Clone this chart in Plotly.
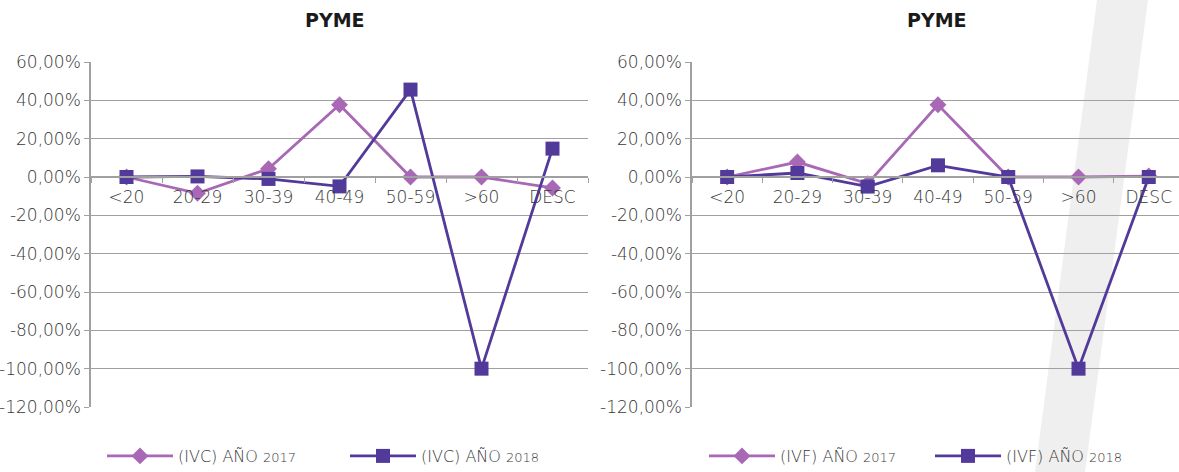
import plotly.graph_objects as go

categories = ["<20", "20-29", "30-39", "40-49", "50-59", ">60", "DESC"]

ivc_2017 = [0.0, -0.085, 0.043, 0.377, 0.0, 0.0, -0.057]
ivc_2018 = [0.0, 0.003, -0.010, -0.049, 0.456, -1.0, 0.148]

ivf_2017 = [0.0, 0.078, -0.035, 0.377, 0.0, 0.0, 0.005]
ivf_2018 = [0.0, 0.021, -0.050, 0.061, 0.0, -1.0, 0.0]

chart_titles = ["PYME", "PYME"]
names_left = ["(IVC) AÑO <span style='font-size:13px'>2017</span>",
              "(IVC) AÑO <span style='font-size:13px'>2018</span>"]
names_right = ["(IVF) AÑO <span style='font-size:13px'>2017</span>",
               "(IVF) AÑO <span style='font-size:13px'>2018</span>"]

ytickvals = [0.6, 0.4, 0.2, 0.0, -0.2, -0.4, -0.6, -0.8, -1.0, -1.2]
yticktext = ["60,00%", "40,00%", "20,00%", "0,00%", "-20,00%", "-40,00%",
             "-60,00%", "-80,00%", "-100,00%", "-120,00%"]

C17 = "#A968B5"
C18 = "#523A9A"
GRID = "#A0A0A0"
TXT = "#383838"
FONT = "DejaVu Sans"

W, H = 1179, 472
PT, PB = 62, 407
PH = PB - PT

fig = go.Figure()

def add_pair(xa, ya, s17, s18, names, legend):
    fig.add_trace(go.Scatter(x=categories, y=s17, name=names[0], xaxis=xa, yaxis=ya,
                             mode="lines+markers", legend=legend,
                             line=dict(color=C17, width=2.8),
                             marker=dict(symbol="diamond", size=13, color=C17)))
    fig.add_trace(go.Scatter(x=categories, y=s18, name=names[1], xaxis=xa, yaxis=ya,
                             mode="lines+markers", legend=legend,
                             line=dict(color=C18, width=2.8),
                             marker=dict(symbol="square", size=14, color=C18)))

add_pair("x", "y", ivc_2017, ivc_2018, names_left, "legend")
add_pair("x2", "y2", ivf_2017, ivf_2018, names_right, "legend2")

zero_pos = 1.2 / 1.8

xcommon = dict(type="category", anchor="free", position=zero_pos, showgrid=False,
               showline=True, linecolor=GRID, linewidth=1.5, ticks="outside",
               tickson="boundaries", ticklen=5, tickcolor=GRID, zeroline=False,
               automargin=False, ticklabelstandoff=5,
               tickfont=dict(family=FONT, size=17, color=TXT, weight=300))
ycommon = dict(range=[-1.2, 0.6], tickvals=ytickvals, ticktext=yticktext,
               showgrid=True, gridcolor=GRID, gridwidth=1.2, showline=True,
               linecolor=GRID, linewidth=1.5, ticks="outside", ticklen=5,
               tickcolor=GRID, zeroline=False, automargin=False,
               tickfont=dict(family=FONT, size=17, color=TXT, weight=300))

legfont = dict(family=FONT, size=16, color=TXT, weight=300)

fig.update_layout(
    width=W, height=H,
    margin=dict(l=0, r=0, t=PT, b=H - PB, autoexpand=False),
    paper_bgcolor="white", plot_bgcolor="rgba(0,0,0,0)",
    xaxis=dict(domain=[91 / W, 588 / W], range=[-0.5, 6.5], **xcommon),
    xaxis2=dict(domain=[692 / W, 1.0], range=[-0.5, 6.43], **xcommon),
    yaxis=dict(domain=[0, 1], anchor="x", **ycommon),
    yaxis2=dict(domain=[0, 1], anchor="x2", **ycommon),
    legend=dict(orientation="h", x=102 / W, xanchor="left", y=(PB - 456) / PH,
                yanchor="middle", font=legfont, entrywidth=162,
                bgcolor="rgba(0,0,0,0)", itemwidth=66),
    legend2=dict(orientation="h", x=704 / W, xanchor="left", y=(PB - 456) / PH,
                 yanchor="middle", font=legfont, entrywidth=145,
                 bgcolor="rgba(0,0,0,0)", itemwidth=66),
    annotations=[
        dict(text="<b>" + chart_titles[0] + "</b>", x=335 / W, y=(PB - 20) / PH,
             xref="paper", yref="paper", showarrow=False, xanchor="center",
             yanchor="middle", font=dict(family=FONT, size=19, color="#1a1a1a")),
        dict(text="<b>" + chart_titles[1] + "</b>", x=937 / W, y=(PB - 20) / PH,
             xref="paper", yref="paper", showarrow=False, xanchor="center",
             yanchor="middle", font=dict(family=FONT, size=19, color="#1a1a1a")),
    ],
    shapes=[dict(type="path", xref="paper", yref="paper", layer="below",
                 path="M {a},{t} L {b},{t} L {c},{bt} L {d},{bt} Z".format(
                     a=1097 / W, b=1148 / W, c=1085 / W, d=1035 / W,
                     t=PB / PH, bt=(PB - H) / PH),
                 fillcolor="#EEEFEE", line=dict(width=0))],
    showlegend=True,
)

fig.write_html("out.html")
